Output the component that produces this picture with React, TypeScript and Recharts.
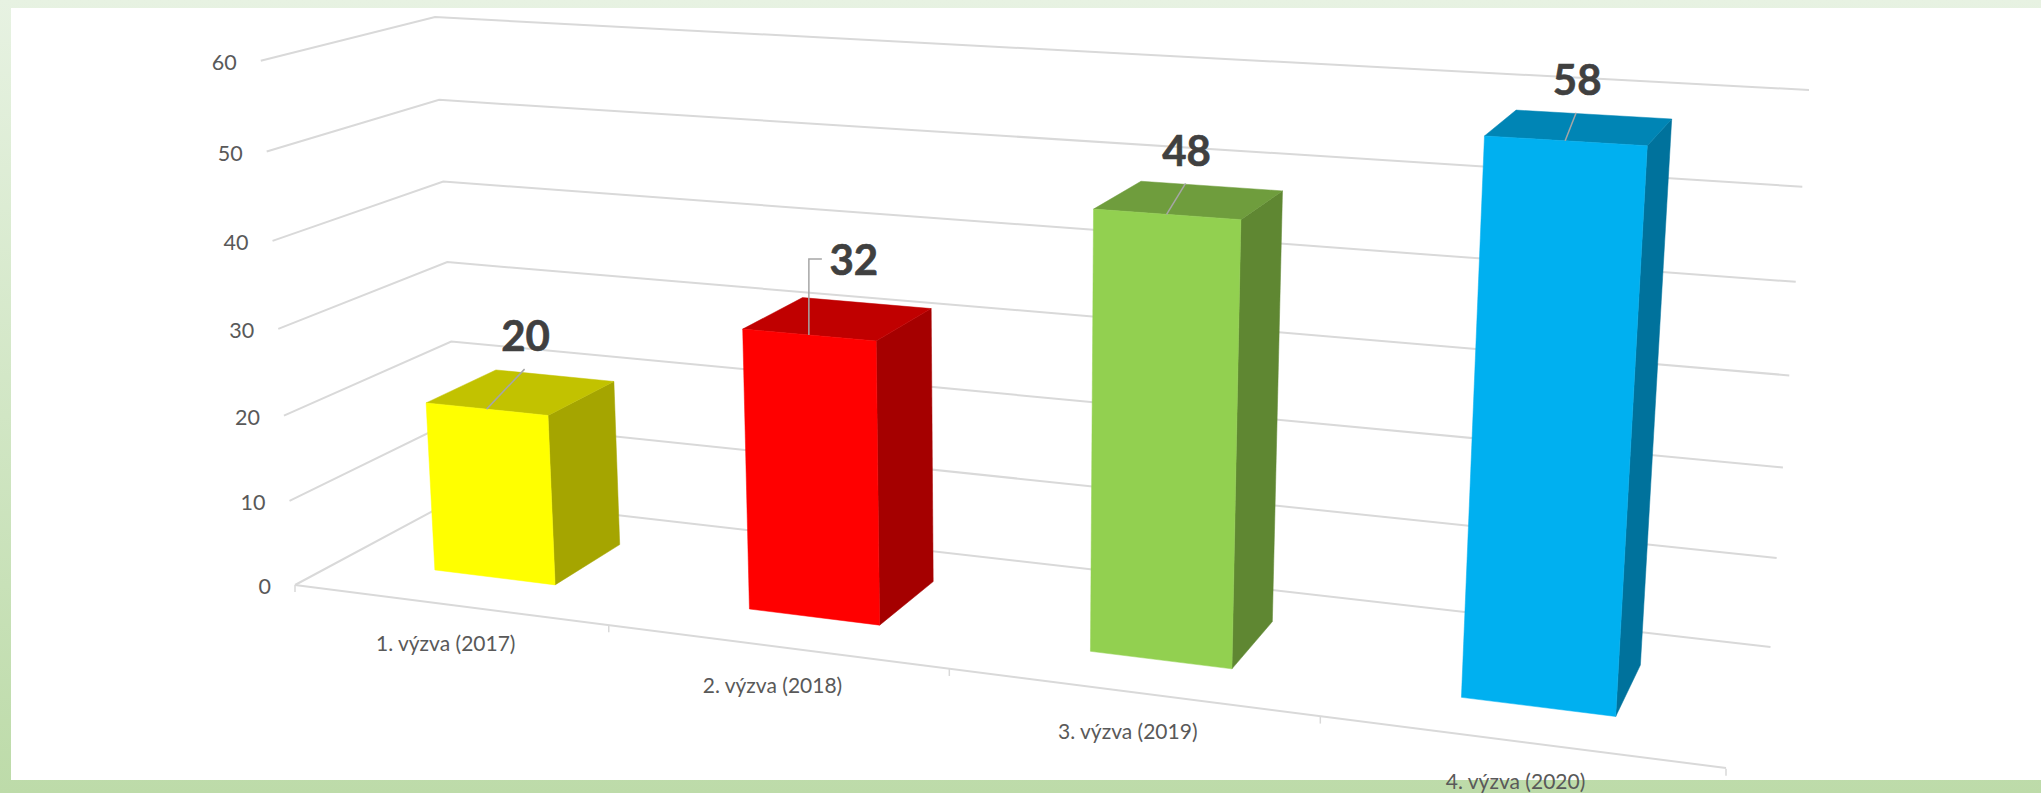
import React from 'react';
import { BarChart, Bar, XAxis, YAxis, CartesianGrid, LabelList } from 'recharts';

const categories = ['1. výzva (2017)', '2. výzva (2018)', '3. výzva (2019)', '4. výzva (2020)'];
const values = [20, 32, 48, 58];
const yTicks = [0, 10, 20, 30, 40, 50, 60];

const frontColors = ['#FFFF00', '#FF0000', '#92D050', '#00B0F0'];
const topColors = ['#C2C200', '#C00000', '#6F9D3D', '#0085B5'];
const sideColors = ['#A5A500', '#A50000', '#5F8732', '#00729C'];

// label position relative to the middle of the bar's top front edge
const labelOffsets = [[39, -74], [45, -76], [20, -64], [12, -62]];
// leader line end, same reference point
const leaderEnds = [[38, -40], [0, -76, 13, -76], [19, -31], [11, -28]];

const chartData = categories.map((name, i) => ({ name, value: values[i] }));

const WIDTH = 2041;
const HEIGHT = 793;
const Y_AXIS_W = 100;
const X_AXIS_H = 100;
const PLOT_W = WIDTH - Y_AXIS_W;
const PLOT_H = HEIGHT - X_AXIS_H;

// corners of the 3D box on screen: back wall, then front floor corners
const C = [459, 497];
const D = [1770.5, 647];
const F = [435, 17];
const G = [1809, 90];
const A = [295, 585];
const B = [1726, 768];

// homography for the back wall (u across, v up)
const dx1 = D[0] - G[0];
const dy1 = D[1] - G[1];
const dx2 = F[0] - G[0];
const dy2 = F[1] - G[1];
const sx = C[0] - D[0] + G[0] - F[0];
const sy = C[1] - D[1] + G[1] - F[1];
const den = dx1 * dy2 - dx2 * dy1;
const g = (sx * dy2 - dx2 * sy) / den;
const h = (dx1 * sy - sx * dy1) / den;
const a = D[0] - C[0] + g * D[0];
const b = F[0] - C[0] + h * F[0];
const d = D[1] - C[1] + g * D[1];
const e = F[1] - C[1] + h * F[1];
// depth direction, z = 1 lands on the front floor edge
const W = (a - B[0] * g) / (B[0] - A[0]);
const Kx = A[0] * W - C[0];
const Ky = A[1] * W - C[1];
const Kw = W - 1;

const project = (u: number, v: number, z: number): [number, number] => {
  const w = g * u + h * v + 1 + z * Kw;
  return [
    (a * u + b * v + C[0] + z * Kx) / w,
    (d * u + e * v + C[1] + z * Ky) / w,
  ];
};

const toU = (x: number) => (x - Y_AXIS_W) / PLOT_W;
const toV = (y: number) => (PLOT_H - y) / PLOT_H;

const points = (pts: [number, number][]) => pts.map(p => p.join(',')).join(' ');

const BAR_Z_FRONT = 0.72;
const BAR_Z_BACK = 0.285;

const Bar3D = (props: any) => {
  const { x, y, width, height, index } = props;
  const u0 = toU(x);
  const u1 = toU(x + width);
  const v1 = toV(y);
  const v0 = toV(y + height);
  const front = [project(u0, v0, BAR_Z_FRONT), project(u1, v0, BAR_Z_FRONT), project(u1, v1, BAR_Z_FRONT), project(u0, v1, BAR_Z_FRONT)];
  const top = [project(u0, v1, BAR_Z_FRONT), project(u1, v1, BAR_Z_FRONT), project(u1, v1, BAR_Z_BACK), project(u0, v1, BAR_Z_BACK)];
  const side = [project(u1, v0, BAR_Z_FRONT), project(u1, v0, BAR_Z_BACK), project(u1, v1, BAR_Z_BACK), project(u1, v1, BAR_Z_FRONT)];
  return (
    <g>
      <polygon points={points(side)} fill={sideColors[index]} stroke={sideColors[index]} strokeWidth={0.5} />
      <polygon points={points(top)} fill={topColors[index]} stroke={topColors[index]} strokeWidth={0.5} />
      <polygon points={points(front)} fill={frontColors[index]} stroke={frontColors[index]} strokeWidth={0.5} />
    </g>
  );
};

const BarLabel = (props: any) => {
  const { x, y, width, value, index } = props;
  const [px, py] = project(toU(x + width / 2), toV(y), BAR_Z_FRONT);
  const [ox, oy] = labelOffsets[index];
  const leader = leaderEnds[index];
  const linePts: [number, number][] = [[px, py], [px + leader[0], py + leader[1]]];
  if (leader.length > 2) linePts.push([px + leader[2], py + leader[3]]);
  return (
    <g>
      <polyline points={points(linePts)} fill="none" stroke="#A6A6A6" strokeWidth={1.5} />
      <text
        x={px + ox}
        y={py + oy}
        textAnchor="middle"
        dominantBaseline="central"
        fill="#404040"
        stroke="#404040"
        strokeWidth={0.6}
        fontFamily="Lato"
        fontWeight={700}
        fontSize={42}
      >
        {value}
      </text>
    </g>
  );
};

const CategoryTick = (props: any) => {
  const { x, payload } = props;
  const [px, py] = project(toU(x), 0, 1);
  return (
    <text x={px - 3} y={py + 38} textAnchor="middle" dominantBaseline="central" fill="#595959" fontFamily="Lato" fontSize={21}>
      {payload.value}
    </text>
  );
};

const ValueTick = (props: any) => {
  const { y, payload } = props;
  const [px, py] = project(0, toV(y), 1);
  return (
    <text x={px - 24} y={py + 1} textAnchor="end" dominantBaseline="central" fill="#595959" fontFamily="Lato" fontSize={21.5}>
      {payload.value}
    </text>
  );
};

const WallLine = (props: any) => {
  const v = toV(props.y1);
  return (
    <polyline
      points={points([project(0, v, 1), project(0, v, 0), project(1, v, 0)])}
      fill="none"
      stroke="#D9D9D9"
      strokeWidth={2}
    />
  );
};

// front edge of the floor with the category tick marks
const FloorEdge = () => (
  <g>
    <line x1={A[0]} y1={A[1]} x2={B[0]} y2={B[1]} stroke="#D9D9D9" strokeWidth={2} />
    {[0, ...categories.map((_, i) => (i + 1) / categories.length)].map(u => {
      const [px, py] = project(u, 0, 1);
      return <line key={u} x1={px} y1={py} x2={px} y2={py + 7} stroke="#D9D9D9" strokeWidth={1.5} />;
    })}
  </g>
);

export default function App() {
  return (
    <div
      style={{
        position: 'absolute',
        left: 0,
        top: 0,
        width: WIDTH,
        height: HEIGHT,
        overflow: 'hidden',
        background: 'linear-gradient(180deg, #E7F2E2 0%, #BDDBA9 100%)',
      }}
    >
      <div style={{ position: 'absolute', left: 11, top: 8, right: 0, bottom: 13, background: '#FFFFFF' }} />
      <div style={{ position: 'absolute', left: 0, top: 0 }}>
        <BarChart
          width={WIDTH}
          height={HEIGHT}
          data={chartData}
          margin={{ top: 0, right: 0, bottom: 0, left: 0 }}
          barCategoryGap="30.4%"
        >
          <CartesianGrid horizontal={WallLine} vertical={false} />
          <FloorEdge />
          <XAxis dataKey="name" height={X_AXIS_H} axisLine={false} tickLine={false} interval={0} tick={CategoryTick} />
          <YAxis
            width={Y_AXIS_W}
            domain={[0, 60]}
            ticks={yTicks}
            interval={0}
            axisLine={false}
            tickLine={false}
            tick={ValueTick}
          />
          <Bar dataKey="value" shape={Bar3D} isAnimationActive={false}>
            <LabelList dataKey="value" content={BarLabel} />
          </Bar>
        </BarChart>
      </div>
    </div>
  );
}
